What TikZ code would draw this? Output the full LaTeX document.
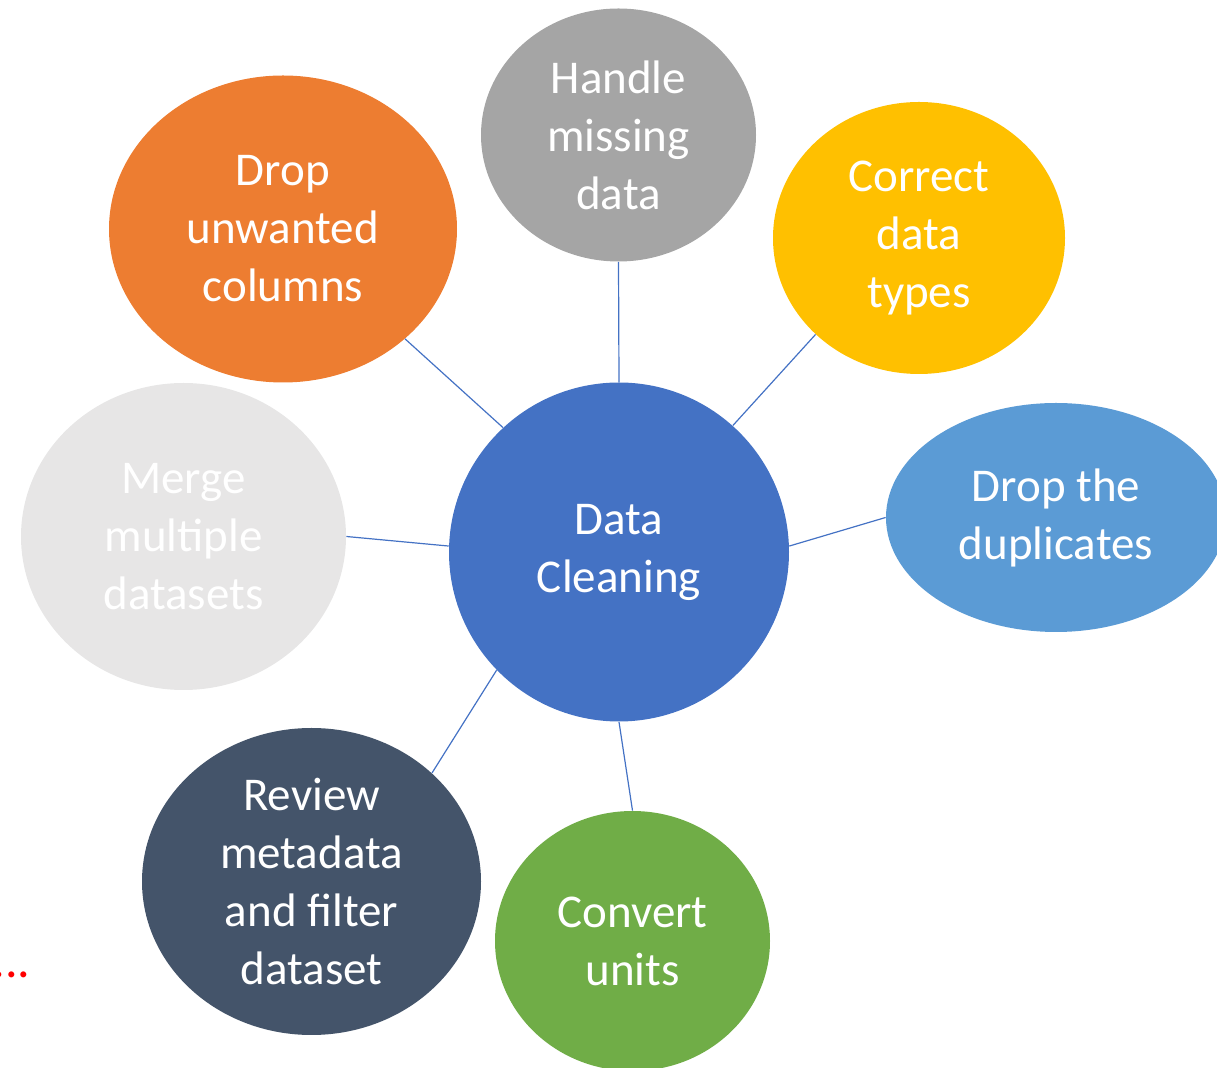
\documentclass[tikz,border=0pt]{standalone}
\usepackage{fontspec}
\setmainfont{Carlito}
\usepackage{xcolor}
\usetikzlibrary{shapes.geometric}

\definecolor{cleanblue}{HTML}{4472C4}
\definecolor{missgray}{HTML}{A5A5A5}
\definecolor{droporange}{HTML}{ED7D31}
\definecolor{typegold}{HTML}{FFC000}
\definecolor{duplblue}{HTML}{5B9BD5}
\definecolor{mergegray}{HTML}{E7E6E6}
\definecolor{reviewslate}{HTML}{44546A}
\definecolor{unitgreen}{HTML}{70AD47}

\begin{document}
\begin{tikzpicture}[
  x=0.5pt, y=-0.5pt,
  bubble/.style={ellipse, inner sep=0pt, align=center, text=white,
                 font=\fontsize{23.5}{29}\selectfont},
  link/.style={draw=cleanblue, line width=0.6pt}
]
  \useasboundingbox (0,0) rectangle (1217,1068);
  \clip (0,0) rectangle (1217,1068);

  % hub
  \node[bubble, fill=cleanblue, minimum width=170pt, minimum height=169.5pt]
    (clean) at (619,552) {Data\\Cleaning};

  % outer bubbles
  \node[bubble, fill=missgray, minimum width=137.5pt, minimum height=126.5pt]
    (missing) at (618.5,135) {Handle\\missing\\data};
  \node[bubble, fill=droporange, minimum width=174pt, minimum height=153.5pt]
    (columns) at (283,229) {Drop\\unwanted\\columns};
  \node[bubble, fill=typegold, minimum width=146pt, minimum height=136pt]
    (types) at (919,238) {Correct\\data\\types};
  \node[bubble, fill=duplblue, minimum width=170pt, minimum height=114.5pt]
    (dupes) at (1056,517.5) {Drop the\\duplicates};
  \node[bubble, fill=mergegray, minimum width=162.5pt, minimum height=153.5pt]
    (merge) at (183.5,536.5) {Merge\\multiple\\datasets};
  \node[bubble, fill=reviewslate, minimum width=169.5pt, minimum height=153.5pt]
    (review) at (311.5,881.5) {Review\\metadata\\and filter\\dataset};
  \node[bubble, fill=unitgreen, minimum width=137.5pt, minimum height=130pt]
    (units) at (632.5,941) {Convert\\units};

  % spokes
  \draw[link] (clean.90)  -- (missing.270);
  \draw[link] (clean.133) -- (columns.318);
  \draw[link] (clean.48)  -- (types.223);
  \draw[link] (clean.2)   -- (dupes.180);
  \draw[link] (clean.178) -- (merge.0);
  \draw[link] (clean.224) -- (review.42);
  \draw[link] (clean.270) -- (units.90);

  \node[anchor=base east, inner sep=0pt, text=red,
        font=\fontsize{25}{30}\selectfont] (more) at (31,978) {...};
\end{tikzpicture}
\end{document}
